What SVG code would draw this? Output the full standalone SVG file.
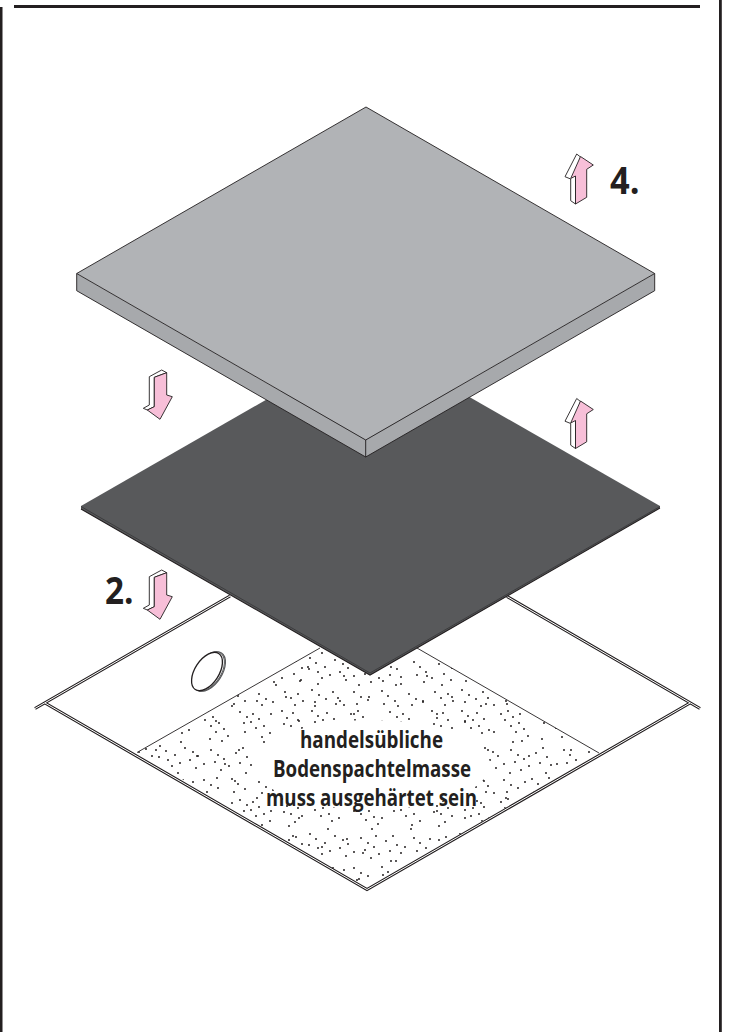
<svg xmlns="http://www.w3.org/2000/svg" xmlns:xlink="http://www.w3.org/1999/xlink" width="729" height="1032" viewBox="0 0 729 1032">
<style>
.border{fill:#231f20}
.edge{fill:none;stroke:#231f20;stroke-width:.9;stroke-linejoin:round}
.ro{stroke:#231f20;stroke-width:3.1;fill:none}
.ri{stroke:#fff;stroke-width:1;fill:none}
.pink{fill:#f7bfd8;stroke:#231f20;stroke-width:.9;stroke-linejoin:round}
.wht{fill:#fff;stroke:#231f20;stroke-width:.9;stroke-linejoin:round}
text{font-family:"Open Sans","Noto Sans","Liberation Sans",sans-serif;font-weight:700;fill:#231f20}
.big{font-size:38px}
.lab{font-size:22.500px;text-anchor:start}
.dots{fill:none;stroke:#231f20;stroke-width:2;stroke-linecap:round}
</style>
<defs>
<pattern id="stip" width="150" height="88" patternUnits="userSpaceOnUse" x="6" y="4">
<path class="dots" d="M6 3h0M12 8h0M9 14h0M17 12h0M21 5h0M15 20h0M23 18h0M28 11h0M26 25h0M33 22h0M45 6h0M52 3h0M49 12h0M57 9h0M55 18h0M63 15h0M60 24h0M68 21h0M72 28h0M66 33h0M84 4h0M91 9h0M88 15h0M97 6h0M95 14h0M103 11h0M100 20h0M108 18h0M114 25h0M106 29h0M126 3h0M131 10h0M137 5h0M128 16h0M135 18h0M142 12h0M146 20h0M139 26h0M133 30h0M4 38h0M10 43h0M3 49h0M12 52h0M19 47h0M16 58h0M24 55h0M29 40h0M37 44h0M34 52h0M42 48h0M40 60h0M48 56h0M55 42h0M62 47h0M59 54h0M68 51h0M65 62h0M73 58h0M80 45h0M87 40h0M91 49h0M84 55h0M95 57h0M90 65h0M108 42h0M114 47h0M111 55h0M120 52h0M118 62h0M126 58h0M133 44h0M140 41h0M146 48h0M138 54h0M145 60h0M6 70h0M13 75h0M9 82h0M20 79h0M27 72h0M32 78h0M38 85h0M30 84h0M48 72h0M55 77h0M51 84h0M62 80h0M76 71h0M82 76h0M78 84h0M89 81h0M103 74h0M110 79h0M106 85h0M117 82h0M129 72h0M135 78h0M142 74h0M139 85h0M147 81h0"/>
</pattern>
<pattern id="stip2" width="83" height="97" patternUnits="userSpaceOnUse" x="3" y="11">
<path class="dots" d="M5 11h0M19 24h0M34 7h0M47 31h0M63 16h0M76 42h0M12 52h0M28 66h0M41 49h0M56 74h0M70 60h0M9 83h0M24 92h0M48 88h0M66 91h0"/>
</pattern>
<clipPath id="fieldClip"><path d="M137 752.500L320 648H417L599 753L367 888.500Z"/></clipPath>
<g id="arrowUp">
<path class="wht" d="M576.700 154L565 176.700L570.700 179V200.700L575.500 204V176L580.500 157Z"/>
<path class="pink" d="M580.500 156.500L593.300 165L586.700 169.300V197.300L575.500 204V176L570.700 178.500Z"/>
</g>
<g id="arrowDown">
<path class="wht" d="M149.300 376.700L161.700 370L166.700 372.700L154.300 377.300V406.700L147.300 410L143.300 408.300L149.300 405Z"/>
<path class="pink" d="M154.300 377.300L166.700 372.700V395L172.300 396.700L160 419.300L147.300 410L154.300 406.700Z"/>
</g>
</defs>

<g id="frame">
<rect class="border" x="14" y="5" width="686" height="3"/>
<rect class="border" x="0" y="7" width="2.500" height="1025"/>
<rect class="border" x="719" y="0" width="2.800" height="1032"/>
</g>

<g id="floor">
<path d="M45 703L230 596H507L690 703L367 890Z" fill="#fff"/>
<g clip-path="url(#fieldClip)">
<rect x="130" y="640" width="480" height="255" fill="url(#stip)"/>
<rect x="130" y="640" width="480" height="255" fill="url(#stip2)"/>
<ellipse cx="372" cy="765" rx="118" ry="45" fill="#fff"/>
</g>
<path class="edge" d="M137 752.500L320 648M417 648L599 753"/>
<path class="ro" d="M35 708.500L230 596M507 596.500L700 708.500M45 703L367 889.500L690 703"/>
<path class="ri" d="M35 708.500L230 596M507 596.500L700 708.500M45 703L367 889.500L690 703"/>
</g>

<g id="ring">
<ellipse cx="209.500" cy="671.500" rx="22" ry="12.500" transform="rotate(-57 209.500 671.500)" fill="#fff" stroke="#58595b" stroke-width="1.200"/>
<ellipse cx="208.500" cy="671.500" rx="22" ry="12.500" transform="rotate(-57 208.500 671.500)" fill="#fff" stroke="#58595b" stroke-width="1"/>
<ellipse cx="207" cy="671.500" rx="21.500" ry="12" transform="rotate(-57 207 671.500)" fill="#fff" stroke="#231f20" stroke-width="1.300"/>
</g>

<g id="dark-plate">
<path d="M81 506L370 340L660 506V508L370 675L81 509Z" fill="#58595b"/>
<path d="M81 509L370 675L660 508" fill="none" stroke="#231f20" stroke-width="1.100"/>
<path d="M81 506.500L370 673L660 506.500" fill="none" stroke="#2f2f31" stroke-width=".7"/>
</g>

<g id="top-plate">
<path d="M76.700 273.500L365.700 440V457L76.700 290.700Z" fill="#a7a9ac"/>
<path d="M654.700 273.500L365.700 440V457L654.700 290.700Z" fill="#a7a9ac"/>
<path d="M366 107L654.700 273.500L365.700 440L76.700 273.500Z" fill="#b1b3b6" stroke="#231f20" stroke-width=".9" stroke-linejoin="round"/>
<path class="edge" d="M76.700 273.500V290.700L365.700 457L654.700 290.700V273.500M365.700 440V457"/>
</g>

<g id="arrow-4"><use xlink:href="#arrowUp" href="#arrowUp"/></g>
<g id="arrow-3"><use xlink:href="#arrowUp" href="#arrowUp" y="244.500"/></g>
<g id="arrow-1"><use xlink:href="#arrowDown" href="#arrowDown"/></g>
<g id="arrow-2"><use xlink:href="#arrowDown" href="#arrowDown" y="200"/></g>

<g id="labels">
<text class="big" x="610" y="194" textLength="29.500" lengthAdjust="spacingAndGlyphs">4.</text>
<text class="big" x="105" y="604" textLength="28.500" lengthAdjust="spacingAndGlyphs">2.</text>
<text class="lab" x="300" y="748" textLength="143" lengthAdjust="spacingAndGlyphs">handelsübliche</text>
<text class="lab" x="273" y="777" textLength="198" lengthAdjust="spacingAndGlyphs">Bodenspachtelmasse</text>
<text class="lab" x="266" y="805.500" textLength="211" lengthAdjust="spacingAndGlyphs">muss ausgehärtet sein</text>
</g>
</svg>
